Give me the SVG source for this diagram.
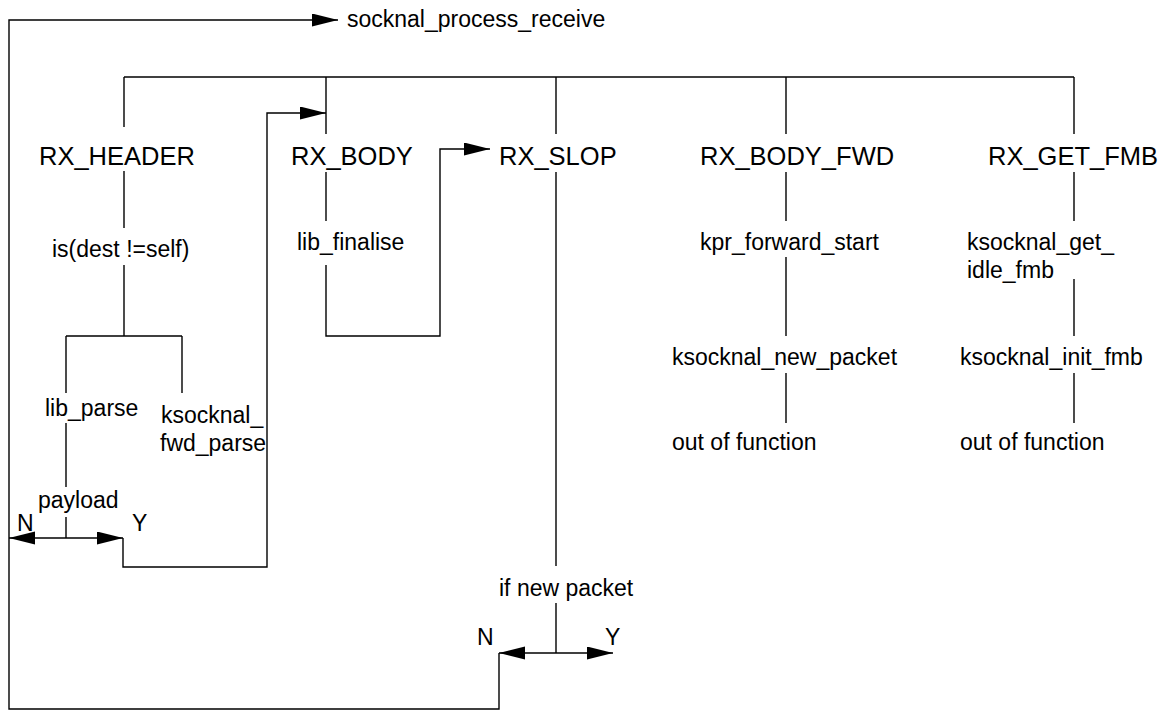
<svg xmlns="http://www.w3.org/2000/svg" width="1168" height="711" viewBox="0 0 1168 711">
<style>
.c{fill:none;stroke:#000;stroke-width:1.4}
.t{font-family:"Liberation Sans",Arial,sans-serif;font-size:23px;fill:#000}
.s{font-family:"Liberation Sans",Arial,sans-serif;font-size:25.5px;fill:#000}
</style>
<defs>
<marker id="ah" markerUnits="userSpaceOnUse" markerWidth="27" markerHeight="14" refX="26" refY="6.5" orient="auto">
<path d="M0,0 L26,6.5 L0,13 z" fill="#000"/>
</marker>
</defs>
<rect width="1168" height="711" fill="#fff"/>
<g id="connectors">
<path class="c" d="M499,653 V709 H9 V20 H338" marker-end="url(#ah)"/>
<path class="c" d="M124,77 H1074"/>
<path class="c" d="M124,77 V127 M326,77 V134 M556,77 V134 M786,77 V134 M1074,77 V134"/>
<path class="c" d="M124,171 V228 M124,265 V336 M66,336 H182 M66,336 V393 M182,336 V393 M66,423 V487 M66,517 V538"/>
<path class="c" d="M66,538 H9" marker-end="url(#ah)"/>
<path class="c" d="M66,538 H123" marker-end="url(#ah)"/>
<path class="c" d="M123,538 V567 H267 V113 H326" marker-end="url(#ah)"/>
<path class="c" d="M326,172 V221"/>
<path class="c" d="M326,265 V336 H440 V149 H490" marker-end="url(#ah)"/>
<path class="c" d="M556,172 V566 M556,603 V653"/>
<path class="c" d="M556,653 H499" marker-end="url(#ah)"/>
<path class="c" d="M556,653 H613" marker-end="url(#ah)"/>
<path class="c" d="M786,172 V221 M786,257 V336 M786,373 V423"/>
<path class="c" d="M1074,172 V221 M1074,279 V336 M1074,373 V423"/>
</g>
<g id="socknal_process_receive"><text class="t" x="347" y="27">socknal_process_receive</text></g>
<g id="rx_header"><text class="s" x="39" y="165">RX_HEADER</text></g>
<g id="rx_body"><text class="s" x="291" y="165">RX_BODY</text></g>
<g id="rx_slop"><text class="s" x="499" y="165">RX_SLOP</text></g>
<g id="rx_body_fwd"><text class="s" x="700" y="165">RX_BODY_FWD</text></g>
<g id="rx_get_fmb"><text class="s" x="988" y="165">RX_GET_FMB</text></g>
<g id="is_dest"><text class="t" x="52" y="257">is(dest !=self)</text></g>
<g id="lib_parse"><text class="t" x="45" y="416">lib_parse</text></g>
<g id="ksocknal_fwd_parse"><text class="t" x="161" y="423">ksocknal_</text><text class="t" x="160" y="451">fwd_parse</text></g>
<g id="payload"><text class="t" x="38" y="508">payload</text><text class="t" x="17" y="531">N</text><text class="t" x="132" y="531">Y</text></g>
<g id="lib_finalise"><text class="t" x="297" y="250">lib_finalise</text></g>
<g id="if_new_packet"><text class="t" x="499" y="596">if new packet</text><text class="t" x="477" y="645">N</text><text class="t" x="605" y="645">Y</text></g>
<g id="kpr_forward_start"><text class="t" x="700" y="250">kpr_forward_start</text></g>
<g id="ksocknal_new_packet"><text class="t" x="672" y="365">ksocknal_new_packet</text></g>
<g id="out_fwd"><text class="t" x="672" y="450">out of function</text></g>
<g id="ksocknal_get_idle_fmb"><text class="t" x="967" y="250">ksocknal_get_</text><text class="t" x="967" y="278">idle_fmb</text></g>
<g id="ksocknal_init_fmb"><text class="t" x="960" y="365">ksocknal_init_fmb</text></g>
<g id="out_fmb"><text class="t" x="960" y="450">out of function</text></g>
</svg>
